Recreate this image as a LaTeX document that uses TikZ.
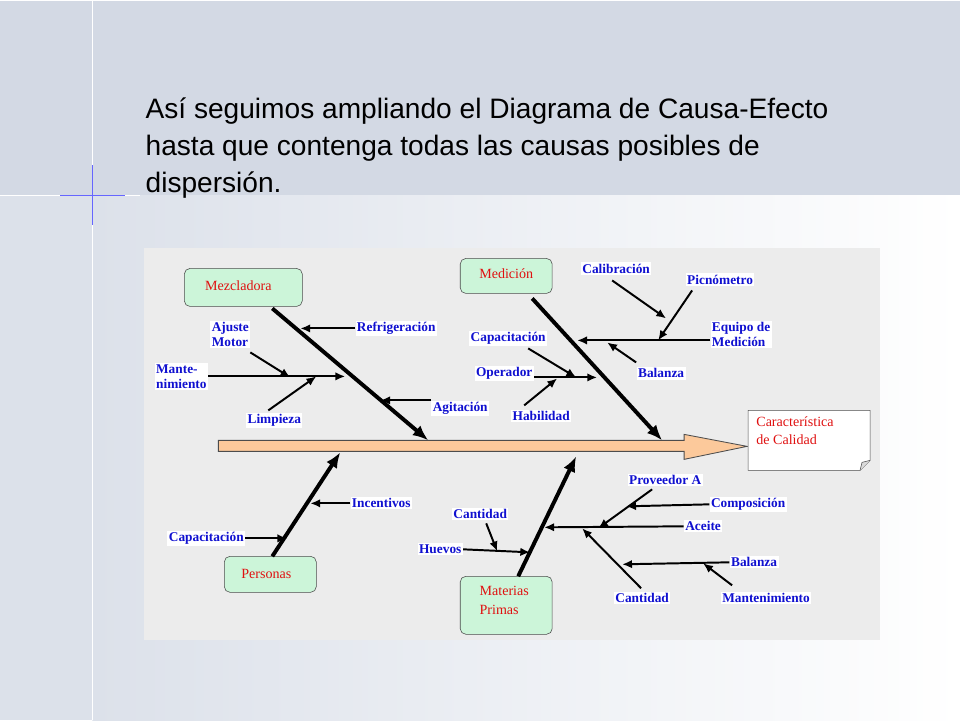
\documentclass[tikz,border=0pt]{standalone}
\usepackage{fontspec}
\setmainfont{Liberation Serif}
\newfontfamily\titlefont{Liberation Sans}
\usetikzlibrary{arrows.meta,calc}
\definecolor{slide}{HTML}{DCE1EA}
\definecolor{band}{HTML}{D3D9E4}
\definecolor{panel}{HTML}{ECECEC}
\definecolor{catfill}{HTML}{CCF5D9}
\definecolor{spine}{HTML}{FCC99B}
\definecolor{lblue}{HTML}{1010D0}
\definecolor{lred}{HTML}{E01010}
\tikzstyle{causa}=[fill=white, inner sep=1pt, text=lblue, font=\fontsize{9.5}{10.5}\selectfont\bfseries, align=left]
\tikzstyle{caja}=[fill=catfill, draw=black!70, rounded corners=4pt]
\tikzstyle{categoria}=[text=lred, font=\fontsize{10}{13}\selectfont, align=left]
\tikzstyle{line}=[draw, line width=1.4pt, -{Latex[length=7pt,width=6pt]}]
\tikzstyle{bone}=[draw, line width=2.8pt, -{Latex[length=11pt,width=9pt]}]
\begin{document}
\begin{tikzpicture}[x=0.025cm,y=-0.025cm]
  % slide background
  \fill[slide] (0,0) rectangle (960,720);
  \fill[band] (0,0) rectangle (960,195);
  \shade[left color=slide, right color=white] (92,195) rectangle (960,720);
  \draw[white, line width=0.8pt] (92,0) -- (92,720);
  \draw[white, line width=0.6pt] (0,195) -- (140,195);
  \draw[blue!60, line width=0.8pt] (60,195) -- (125,195) (92,165) -- (92,225);
  \useasboundingbox (0,0) rectangle (960,720);

  % title
  \node (titulo) [anchor=north west, align=left, inner sep=0pt, font=\titlefont\fontsize{20}{26.5}\selectfont]
    at (145,97) {Así seguimos ampliando el Diagrama de Causa-Efecto\\hasta que contenga todas las causas posibles de\\dispersión.};

  % panel
  \fill[panel] (144,248) rectangle (880,640);

  % spine
  \fill[spine, draw=black!70, line width=0.6pt] (218,440) -- (684,440) -- (684,434) -- (747,446)
    -- (684,459) -- (684,451) -- (218,451) -- cycle;
  \draw[fill=white, draw=black!70] (748,410) -- (870,410) -- (870,460) -- (860,470) -- (748,470) -- cycle;
  \draw[fill=black!15, draw=black!70] (870,460) -- (862,462) -- (860,470);
  \node (car) [anchor=north west, text=lred, align=left, inner sep=0pt, font=\fontsize{10}{13}\selectfont]
    at (756,416) {Característica\\de Calidad};

  % categories
  \draw[caja] (184,268) rectangle (302,306);
  \node (mez) [categoria] at (238,285) {Mezcladora};
  \draw[caja] (460,258) rectangle (552,293);
  \node (med) [categoria] at (506,273) {Medición};
  \draw[caja] (224,556) rectangle (316,592);
  \node (per) [categoria] at (266,574) {Personas};
  \draw[caja] (460,576) rectangle (552,634);
  \node (mat) [categoria] at (504,600) {Materias\\Primas};

  % bones
  \coordinate (m1) at (272,308); \coordinate (m2) at (428,440);
  \coordinate (d1) at (532,298); \coordinate (d2) at (662,440);
  \coordinate (p1) at (272,556); \coordinate (p2) at (340,452);
  \coordinate (r1) at (518,576); \coordinate (r2) at (576,456);
  \path[bone] (m1) -- (m2);
  \path[bone] (d1) -- (d2);
  \path[bone] (p1) -- (p2);
  \path[bone] (r1) -- (r2);

  % Mezcladora
  \node (refr) [causa] at (396,328) {Refrigeración};
  \node (aju) [causa] at (230,334) {Ajuste\\Motor};
  \node (mant) [causa] at (181,376) {Mante-\\nimiento};
  \node (lim) [causa] at (274,420) {Limpieza};
  \node (agi) [causa] at (460,408) {Agitación};
  \path[line] (refr.west) -- (300,328);
  \path[line] (mant.east) -- (345,376);
  \path[line] (250,352) -- (290,377);
  \path[line] (268,410) -- (316,376);
  \path[line] (agi.west |- 400,400) -- (380,400);

  % Medicion
  \node (cal) [causa] at (616,268) {Calibración};
  \node (pic) [causa] at (720,279) {Picnómetro};
  \node (equ) [causa] at (741,334) {Equipo de\\Medición};
  \node (bal) [causa] at (661,373) {Balanza};
  \node (capm) [causa] at (508,338) {Capacitación};
  \node (ope) [causa] at (504,373) {Operador};
  \node (hab) [causa] at (541,416) {Habilidad};
  \path[line] (612,280) -- (666,318);
  \path[line] (692,290) -- (658,340);
  \path[line] (equ.west |- 700,340) -- (577,340);
  \path[line] (636,362) -- (607,342);
  \path[line] (528,348) -- (576,377);
  \path[line] (ope.east |- 537,377) -- (597,377);
  \path[line] (524,405) -- (557,378);

  % Personas
  \node (inc) [causa] at (381,503) {Incentivos};
  \node (capp) [causa] at (206,538) {Capacitación};
  \path[line] (inc.west) -- (310,503);
  \path[line] (capp.east) -- (287,538);

  % Materias Primas
  \node (canh) [causa] at (480,514) {Cantidad};
  \node (hue) [causa] at (440,549) {Huevos};
  \node (prov) [causa] at (665,480) {Proveedor A};
  \node (comp) [causa] at (748,504) {Composición};
  \node (ace) [causa] at (703,526) {Aceite};
  \node (balm) [causa] at (754,562) {Balanza};
  \node (mtm) [causa] at (766,598) {Mantenimiento};
  \node (can) [causa] at (642,598) {Cantidad};
  \path[line] (hue.east) -- (530,552);
  \path[line] (486,523) -- (497,551);
  \path[line] (comp.west) -- (626,506);
  \path[line] (652,489) -- (598,528);
  \path[line] (ace.west) -- (544,527);
  \path[line] (balm.west) -- (622,564);
  \path[line] (732,585) -- (703,563);
  \path[line] (641,588) -- (582,528);
\end{tikzpicture}
\end{document}
